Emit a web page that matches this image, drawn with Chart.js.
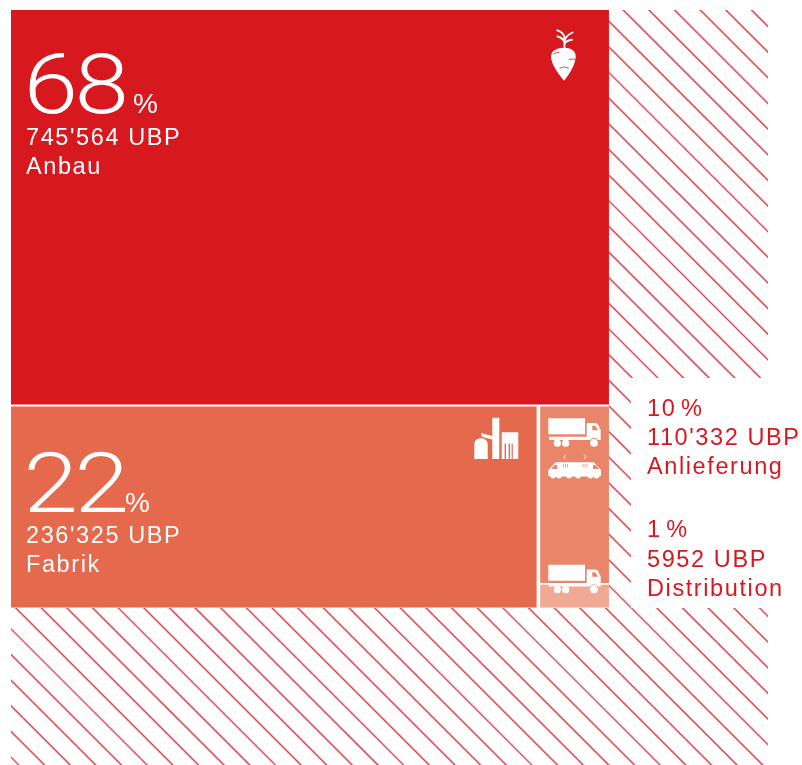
<!DOCTYPE html>
<html lang="de">
<head>
<meta charset="utf-8">
<title>Umweltbelastung Zucker</title>
<script src="https://cdn.jsdelivr.net/npm/chart.js@4/dist/chart.umd.js"></script>
<style>
  html, body { margin: 0; padding: 0; background: #fff; }
  canvas { display: block; }
</style>
</head>
<body>
<canvas id="chart" width="802" height="765"></canvas>
<script>
// --- Data ---
const stages = ['Anbau', 'Fabrik', 'Anlieferung', 'Distribution'];
const shares = [68, 22, 10, 1];
const ubpLabels = ["745'564", "236'325", "110'332", '5952'];
const stageColors = ['#d7181f', '#e5694c', '#e9866a', '#f0a993'];

// cell edges in percent of the square's side
const cellLeft = [0, 0, 88.5, 88.5];
const cellRight = [100, 87.9, 100, 100];
const cellTop = [0, 66.3, 66.3, 96.1];
const cellBottom = [65.95, 99.92, 95.8, 99.92];

// hatched background outline, same units
const hatchX = [100, 126.6, 126.6, 103.68, 103.68, 126.6, 126.6, 0, 0, 100];
const hatchY = [0, 0, 61.54, 61.54, 100, 100, 126.25, 126.25, 100, 100];

const RED = '#d7181f';

// --- Hatch pattern: 20 diagonals fit a 513px tile exactly ---
function makeHatch() {
  const size = 513, step = size / 20;
  const tile = document.createElement('canvas');
  tile.width = tile.height = size;
  const c = tile.getContext('2d');
  c.strokeStyle = '#d7181f';
  c.lineWidth = 1.2;
  for (let k = -20; k <= 20; k++) {
    c.beginPath();
    c.moveTo(k * step, 0);
    c.lineTo(k * step + size, size);
    c.stroke();
  }
  const pattern = c.createPattern(tile, 'repeat');
  pattern.setTransform(new DOMMatrix([1, 0, 0, 1, 613.3 % step, 0]));
  return pattern;
}

function outline(xs, ys) {
  return xs.map((x, i) => ({ x, y: ys[i] }));
}

const datasets = [
  { data: outline(hatchX, hatchY), backgroundColor: makeHatch() },
  ...stages.map((name, i) => ({
    label: name,
    data: outline(
      [cellLeft[i], cellRight[i], cellRight[i], cellLeft[i]],
      [cellTop[i], cellTop[i], cellBottom[i], cellBottom[i]]
    ),
    backgroundColor: stageColors[i],
  })),
];

// --- Icons, page pixels ---
const truckBody = new Path2D('M548.3 418.3H585V434.3H548.3Z M586.7 423H595.5Q597 423 598 424.5L600.7 430V440H549V436.8H586.7Z');
const truckWindow = new Path2D('M592.3 425.7H595.2L598.2 430.3H592.3Z');
const truckWheels = [[557.3, 443.2, 3.6], [565.7, 443.2, 3.6], [594, 442.8, 4]];

const trainBody = new Path2D('M555.7 462.3H593.6L601 470V476H599.5Q598.6 478.5 596.5 478.5Q594.4 478.5 593.5 476.6Q592.6 478.5 590.5 478.5Q588.4 478.5 587.5 476.6H581Q580 478.5 578 478.5Q576 478.5 575 476.6H572Q571 478.5 569 478.5Q567 478.5 566 476.6H562Q561 478.5 559 478.5Q557 478.5 556 476.6Q555 478.5 553 478.5Q551 478.5 550 476H548.3V470Z');
const trainWindows = new Path2D('M554.5 465H557V469H551Z M593 465H595.5L599 469H593Z');
const trainVents = new Path2D('M563 464H564V467.5H563Z M565 464H566V467.5H565Z M567 464H568V467.5H567Z M582.5 464H583.5V467.5H582.5Z M584.5 464H585.5V467.5H584.5Z M586.5 464H587.5V467.5H586.5Z');

const factory = new Path2D('M492.3 417.7H499.3V459H492.3Z M474.3 459V445Q474.3 438.3 481 438.3Q487.7 438.3 487.7 445V459Z M481 433L492.3 436V439.5L482 437Z M501.7 432.3H518.3V459H512.8V443.5H511.6V459H510V443.5H508.6V459H506V443.5H504.6V459H501.7Z');

const beetBody = new Path2D('M564 47.7C571 47.7 575.7 51 575.7 56.5C575.7 64 569 75 564 80.7C559 75 551 64 551 56.5C551 51 557 47.7 564 47.7Z');
const beetLeaves = new Path2D('M564.5 48V37.5Q563.5 32 557.3 30.3 M564.3 42Q562.5 37.5 557.5 36.5 M564.7 40.5Q566 35.5 572.5 32.5 M564.7 43.5Q566.5 40.5 572 39.8');
const beetLines = new Path2D('M553.5 54Q556.5 52 559 52.5 M569 59.5Q572 58.5 575.3 59.3 M560 68Q563.5 65.5 568.5 68');

function drawTruck(ctx, dy, ringColor) {
  ctx.save();
  ctx.translate(0, dy);
  ctx.fillStyle = '#fff';
  ctx.fill(truckBody);
  truckWheels.forEach(([x, y, r]) => {
    ctx.beginPath();
    ctx.arc(x, y, r, 0, Math.PI * 2);
    ctx.fill();
  });
  // small gap between cab and front wheel
  ctx.strokeStyle = ringColor;
  ctx.lineWidth = 1;
  ctx.beginPath();
  ctx.arc(594, 442.8, 4.6, Math.PI * 1.05, Math.PI * 1.95);
  ctx.stroke();
  ctx.fillStyle = stageColors[2];
  ctx.fill(truckWindow);
  ctx.restore();
}

function drawChevrons(ctx) {
  ctx.lineWidth = 1;
  ctx.beginPath();
  ctx.moveTo(565.5, 455); ctx.lineTo(563.8, 456.8); ctx.lineTo(565.5, 458.6);
  ctx.moveTo(584.2, 455); ctx.lineTo(586, 456.8); ctx.lineTo(584.2, 458.6);
  ctx.stroke();
}

// --- Text and icon layer ---
const textPlugin = {
  id: 'treemapText',
  afterDatasetsDraw(chart) {
    const ctx = chart.ctx;
    ctx.save();

    const text = (str, x, y, color, tight) => {
      ctx.font = '23.5px "Liberation Sans"';
      ctx.letterSpacing = '1.6px';
      ctx.wordSpacing = tight ? '-3.5px' : '0px';
      ctx.fillStyle = color;
      ctx.fillText(str, x, y);
    };
    // Roboto Light is narrower than the original figures, so stretch it a little
    const big = (str, x, y) => {
      ctx.save();
      ctx.translate(x, y);
      ctx.scale(1.17, 1);
      ctx.font = '300 84px Roboto';
      ctx.letterSpacing = '-3px';
      ctx.wordSpacing = '0px';
      ctx.fillStyle = '#fff';
      ctx.fillText(str, 0, 0);
      ctx.restore();
    };
    const percent = (x, y) => {
      ctx.font = '28px "Liberation Sans"';
      ctx.letterSpacing = '0px';
      ctx.wordSpacing = '0px';
      ctx.fillStyle = '#fff';
      ctx.fillText('%', x, y);
    };

    big(String(shares[0]), 23.5, 113);
    percent(133, 113);
    text(ubpLabels[0] + ' UBP', 26, 145, '#fff');
    text(stages[0], 26, 174, '#fff');

    big(String(shares[1]), 23.5, 512);
    percent(125, 512);
    text(ubpLabels[1] + ' UBP', 26, 543, '#fff');
    text(stages[1], 26, 572, '#fff');

    text(shares[2] + ' %', 647, 416, RED, true);
    text(ubpLabels[2] + ' UBP', 647, 445, RED);
    text(stages[2], 647, 474, RED);

    text(shares[3] + ' %', 647, 537, RED, true);
    text(ubpLabels[3] + ' UBP', 647, 567, RED);
    text(stages[3], 647, 596, RED);

    ctx.letterSpacing = '0px';
    ctx.wordSpacing = '0px';
    ctx.fillStyle = '#fff';
    ctx.strokeStyle = '#fff';
    ctx.lineCap = 'round';

    ctx.fill(beetBody);
    ctx.lineWidth = 1.9;
    ctx.stroke(beetLeaves);
    ctx.strokeStyle = stageColors[0];
    ctx.lineWidth = 0.8;
    ctx.stroke(beetLines);

    ctx.fill(factory);

    drawTruck(ctx, 0, stageColors[2]);
    drawTruck(ctx, 146.5, stageColors[3]);

    ctx.fillStyle = '#fff';
    ctx.fill(trainBody);
    ctx.strokeStyle = '#fff';
    drawChevrons(ctx);
    ctx.fillStyle = stageColors[2];
    ctx.fill(trainWindows);
    ctx.fillStyle = stageColors[3];
    ctx.fill(trainVents);

    ctx.restore();
  },
};

// --- Chart ---
new Chart(document.getElementById('chart'), {
  type: 'scatter',
  data: { datasets },
  options: {
    responsive: false,
    animation: false,
    events: [],
    layout: { padding: { left: 11, top: 10, right: 34, bottom: 0 } },
    showLine: true,
    elements: {
      point: { radius: 0 },
      line: { borderWidth: 0, tension: 0, fill: 'shape' },
    },
    plugins: { legend: { display: false }, tooltip: { enabled: false } },
    scales: {
      x: { type: 'linear', min: 0, max: 126.6, display: false },
      y: { type: 'linear', min: 0, max: 126.25, reverse: true, display: false },
    },
  },
  plugins: [textPlugin],
});
</script>
</body>
</html>
